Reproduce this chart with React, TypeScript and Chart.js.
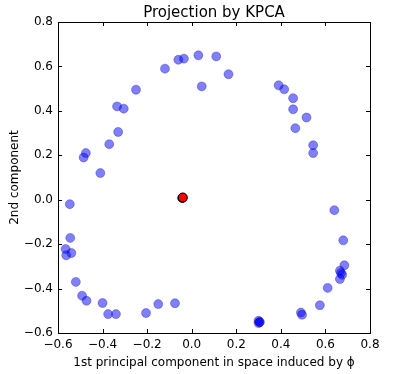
import React, { useEffect, useRef } from "react";
import { Chart, registerables } from "chart.js";
Chart.register(...registerables);

const title = "Projection by KPCA";
const xLabel = "1st principal component in space induced by \u03D5";
const yLabel = "2nd component";
const xTicks = [-0.6, -0.4, -0.2, 0.0, 0.2, 0.4, 0.6, 0.8];
const yTicks = [-0.6, -0.4, -0.2, 0.0, 0.2, 0.4, 0.6, 0.8];

const blueX = [
  -0.12, -0.06, -0.035, 0.03, 0.11, 0.165, 0.045, -0.25, -0.335, -0.305, -0.33, -0.37, -0.485, -0.475, -0.41, -0.547,
  0.39, 0.415, 0.455, 0.455, 0.515, 0.465, 0.545, 0.545, 0.64, 0.68, 0.685, 0.665, 0.67, 0.675, 0.665, 0.61, 0.575,
  0.49, 0.495, 0.3, 0.305, 0.3, 0.305,
  -0.545, -0.566, -0.563, -0.54, -0.52, -0.492, -0.472, -0.4, -0.375, -0.34, -0.205, -0.15, -0.075,
];
const blueY = [
  0.59, 0.63, 0.635, 0.65, 0.645, 0.565, 0.51, 0.495, 0.42, 0.41, 0.305, 0.25, 0.19, 0.21, 0.12, -0.02,
  0.515, 0.497, 0.457, 0.407, 0.37, 0.322, 0.245, 0.21, -0.047, -0.183, -0.295, -0.32, -0.33, -0.338, -0.357, -0.397, -0.475,
  -0.508, -0.518, -0.545, -0.55, -0.555, -0.552,
  -0.172, -0.222, -0.25, -0.24, -0.37, -0.432, -0.455, -0.465, -0.515, -0.515, -0.51, -0.47, -0.466,
];
const redX = [-0.042, -0.04];
const redY = [0.008, 0.01];

const fmt = (v: number) => {
  const s = Math.abs(v) < 1e-9 ? "0.0" : v.toFixed(1);
  return s.replace("-", "\u2212");
};

const font = "'DejaVu Sans', sans-serif";

const framePlugin = {
  id: "frameTicks",
  afterDraw(chart: any) {
    const { ctx, chartArea: a, scales } = chart;
    ctx.save();
    ctx.strokeStyle = "#000";
    ctx.lineWidth = 1;
    const L = 4;
    ctx.beginPath();
    for (const t of xTicks) {
      const px = Math.round(scales.x.getPixelForValue(t)) + 0.5;
      ctx.moveTo(px, a.bottom);
      ctx.lineTo(px, a.bottom - L);
      ctx.moveTo(px, a.top);
      ctx.lineTo(px, a.top + L);
    }
    for (const t of yTicks) {
      const py = Math.round(scales.y.getPixelForValue(t)) + 0.5;
      ctx.moveTo(a.left, py);
      ctx.lineTo(a.left + L, py);
      ctx.moveTo(a.right, py);
      ctx.lineTo(a.right - L, py);
    }
    ctx.stroke();
    ctx.strokeRect(Math.round(a.left) + 0.5, Math.round(a.top) + 0.5, Math.round(a.right - a.left), Math.round(a.bottom - a.top));
    ctx.fillStyle = "#000";
    ctx.font = `15px ${font}`;
    ctx.textAlign = "center";
    ctx.textBaseline = "middle";
    ctx.fillText(title, (a.left + a.right) / 2, 13);
    ctx.restore();
  },
};

export default function App() {
  const ref = useRef<HTMLCanvasElement>(null);
  useEffect(() => {
    if (!ref.current) return;
    const chart = new Chart(ref.current, {
      type: "scatter",
      data: {
        datasets: [
          {
            data: blueX.map((x, i) => ({ x, y: blueY[i] })),
            backgroundColor: "rgba(0,0,255,0.5)",
            borderColor: "rgba(0,0,120,0.5)",
            borderWidth: 0.6,
            pointRadius: 4.5,
          },
          {
            data: redX.map((x, i) => ({ x, y: redY[i] })),
            backgroundColor: "rgb(255,0,0)",
            borderColor: "#000",
            borderWidth: 1,
            pointRadius: 4.5,
          },
        ],
      },
      options: {
        animation: false,
        responsive: false,
        layout: { padding: { left: 0, right: 36, top: 22, bottom: 0 } },
        plugins: {
          legend: { display: false },
          tooltip: { enabled: false },
          title: { display: false },
        },
        scales: {
          x: {
            type: "linear",
            min: -0.6,
            max: 0.8,
            afterBuildTicks: (s: any) => { s.ticks = xTicks.map((v) => ({ value: v })); },
            afterFit: (s: any) => { s.height = 41; },
            grid: { display: false, drawTicks: false },
            border: { display: false },
            ticks: { color: "#000", font: { family: font, size: 12 }, padding: 5, callback: (v: any) => fmt(Number(v)), maxRotation: 0 },
            title: { display: true, text: xLabel, color: "#000", font: { family: font, size: 12 }, padding: { top: 2, bottom: 4 } },
          },
          y: {
            type: "linear",
            min: -0.6,
            max: 0.8,
            afterBuildTicks: (s: any) => { s.ticks = yTicks.map((v) => ({ value: v })); },
            afterFit: (s: any) => { s.width = 58; },
            grid: { display: false, drawTicks: false },
            border: { display: false },
            ticks: { color: "#000", font: { family: font, size: 12 }, padding: 5, callback: (v: any) => fmt(Number(v)) },
            title: { display: true, text: yLabel, color: "#000", font: { family: font, size: 12 }, padding: { top: 8, bottom: 0 } },
          },
        },
      },
      plugins: [framePlugin],
    });
    return () => chart.destroy();
  }, []);
  return (
    <div style={{ position: "fixed", left: 0, top: 0, width: 406, height: 374, background: "#fff" }}>
      <canvas ref={ref} width={406} height={374} style={{ width: 406, height: 374 }} />
    </div>
  );
}
